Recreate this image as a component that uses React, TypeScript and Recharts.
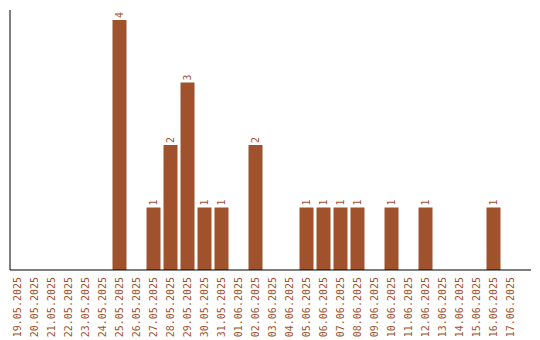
import { BarChart, Bar, XAxis, YAxis, LabelList } from 'recharts';

const dates = [
  '19.05.2025', '20.05.2025', '21.05.2025', '22.05.2025', '23.05.2025', '24.05.2025',
  '25.05.2025', '26.05.2025', '27.05.2025', '28.05.2025', '29.05.2025', '30.05.2025',
  '31.05.2025', '01.06.2025', '02.06.2025', '03.06.2025', '04.06.2025', '05.06.2025',
  '06.06.2025', '07.06.2025', '08.06.2025', '09.06.2025', '10.06.2025', '11.06.2025',
  '12.06.2025', '13.06.2025', '14.06.2025', '15.06.2025', '16.06.2025', '17.06.2025',
];
const counts = [0, 0, 0, 0, 0, 0, 4, 0, 1, 2, 3, 1, 1, 0, 2, 0, 0, 1, 1, 1, 1, 0, 1, 0, 1, 0, 0, 0, 1, 0];

const COLOR = '#A0522D';
const FONT = '"DejaVu Sans Mono", monospace';

const data = dates.map((d, i) => ({ date: d, count: counts[i] }));

// tick y comes in at axis + tickSize + tickMargin (278), labels start at ~277
const DateTick = ({ x, y, payload }: any) => {
  const tx = x + 3.6;
  const ty = y - 1;
  return (
    <text
      x={tx}
      y={ty}
      transform={`rotate(-90, ${tx}, ${ty})`}
      textAnchor="end"
      fill={COLOR}
      fontSize={10}
      fontFamily={FONT}
    >
      {payload.value}
    </text>
  );
};

const ValueLabel = ({ x, y, width, value }: any) => {
  if (!value) return null;
  const cx = x + width / 2 + 3.6;
  const cy = y - 2;
  return (
    <text
      x={cx}
      y={cy}
      transform={`rotate(-90, ${cx}, ${cy})`}
      textAnchor="start"
      fill={COLOR}
      fontSize={10}
      fontFamily={FONT}
    >
      {value}
    </text>
  );
};

export default function App() {
  return (
    <div style={{ position: 'absolute', left: 0, top: 0, width: 540, height: 340, background: '#fff' }}>
      <BarChart width={540} height={340} data={data} margin={{ top: 10, right: 9, left: 9, bottom: 0 }} barSize={14}>
        <XAxis
          dataKey="date"
          height={70}
          interval={0}
          tickLine={false}
          axisLine={{ stroke: '#000', strokeWidth: 1 }}
          tick={<DateTick />}
          padding={{ left: -1.5, right: 12.5 }}
        />
        <YAxis
          width={1}
          domain={[0, 4.16]}
          tick={false}
          tickLine={false}
          axisLine={{ stroke: '#000', strokeWidth: 1 }}
        />
        <Bar dataKey="count" fill={COLOR} isAnimationActive={false}>
          <LabelList dataKey="count" content={<ValueLabel />} />
        </Bar>
      </BarChart>
    </div>
  );
}
